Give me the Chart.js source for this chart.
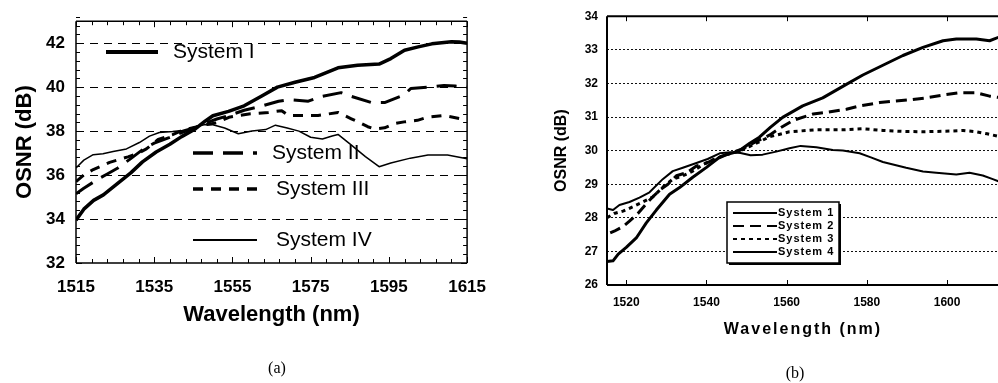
<!DOCTYPE html>
<html>
<head>
<meta charset="utf-8">
<title>OSNR vs wavelength</title>
<script src="https://cdn.jsdelivr.net/npm/chart.js@4.4.0/dist/chart.umd.min.js"></script>
<style>
  html, body { margin: 0; padding: 0; background: #fff; }
  #page { position: relative; width: 998px; height: 383px; overflow: hidden; }
  #chartA { position: absolute; left: 0; top: 0; }
  #chartB { position: absolute; left: 500px; top: 0; }
  .caption {
    position: absolute;
    font: 16px "Liberation Serif", "Times New Roman", serif;
    color: #000;
    transform: translate(-50%, -50%);
  }
</style>
</head>
<body>
<div id="page">
  <canvas id="chartA" width="500" height="383"></canvas>
  <canvas id="chartB" width="498" height="383"></canvas>
  <div class="caption" style="left:277px; top:368px;">(a)</div>
  <div class="caption" style="left:795px; top:373px;">(b)</div>
</div>

<script>
// ---- panel (a): OSNR (dB) per wavelength (nm) ----
const waveA1 = [1515, 1517, 1519.5, 1522, 1525.5, 1529, 1532, 1535.5, 1539, 1542, 1545.5, 1548, 1550, 1554, 1558, 1562.5, 1566.5, 1571, 1576, 1579, 1582, 1587, 1592.5, 1595.5, 1599, 1602.5, 1606, 1611, 1613, 1615];
const osnrA1 = [33.95, 34.45, 34.85, 35.1, 35.6, 36.1, 36.6, 37.05, 37.4, 37.75, 38.1, 38.45, 38.7, 38.9, 39.15, 39.6, 40.0, 40.22, 40.44, 40.66, 40.88, 41.0, 41.05, 41.3, 41.68, 41.83, 41.97, 42.07, 42.05, 42.0];

const waveA2 = [1515, 1517, 1520.5, 1523, 1525.7, 1529, 1532.5, 1535, 1538.8, 1542.2, 1545, 1548, 1551, 1554, 1558, 1562.5, 1566.8, 1569.3, 1574.4, 1577.8, 1582.8, 1585.4, 1590.5, 1593.9, 1598.9, 1600.6, 1605.7, 1609.1, 1612, 1615];
const osnrA2 = [35.15, 35.4, 35.8, 36.05, 36.32, 36.75, 37.22, 37.45, 37.7, 37.94, 38.12, 38.35, 38.55, 38.7, 38.95, 39.14, 39.36, 39.43, 39.36, 39.58, 39.75, 39.58, 39.3, 39.3, 39.64, 39.94, 40.01, 40.08, 40.05, 40.0];

const waveA3 = [1515, 1517, 1519.4, 1523.6, 1528.3, 1531, 1533, 1536, 1539.7, 1542.5, 1545.5, 1548.5, 1551, 1554.1, 1559.2, 1564.2, 1567.6, 1569.3, 1572.7, 1576.9, 1579.5, 1582, 1585.4, 1587.1, 1589.6, 1591.3, 1593.9, 1596.4, 1598.9, 1602.3, 1604.8, 1609.1, 1613.3, 1615];
const osnrA3 = [35.7, 36.0, 36.25, 36.58, 36.83, 37.0, 37.19, 37.62, 37.84, 38.06, 38.18, 38.3, 38.38, 38.63, 38.78, 38.85, 38.93, 38.71, 38.71, 38.71, 38.78, 38.85, 38.56, 38.42, 38.2, 38.1, 38.15, 38.34, 38.42, 38.49, 38.63, 38.71, 38.56, 38.55];

const waveA4 = [1515, 1517, 1519.4, 1521.9, 1524.5, 1527.9, 1531.2, 1533.8, 1536.3, 1539.7, 1542.2, 1545.6, 1548, 1550, 1553, 1556.5, 1560, 1563.5, 1566, 1569, 1572, 1575, 1578, 1580.5, 1582, 1585.5, 1589, 1592.5, 1595.5, 1600.5, 1605, 1610, 1615];
const osnrA4 = [36.32, 36.68, 36.93, 36.97, 37.07, 37.19, 37.48, 37.77, 37.94, 37.98, 38.03, 38.2, 38.3, 38.29, 38.14, 37.88, 38.0, 38.07, 38.27, 38.14, 38.0, 37.72, 37.64, 37.78, 37.85, 37.35, 36.84, 36.38, 36.55, 36.77, 36.91, 36.91, 36.74];

const namesA = ['System I', 'System II', 'System III', 'System IV'];
const xTicksA = [1515, 1535, 1555, 1575, 1595, 1615];
const yTicksA = [32, 34, 36, 38, 40, 42];

// ---- panel (b) ----
const waveB1 = [1515.2, 1516.7, 1518, 1520, 1522.5, 1525, 1527.5, 1530.8, 1533.3, 1536.5, 1540, 1543, 1545, 1548, 1550.8, 1553.2, 1556, 1559, 1564, 1569, 1574, 1579, 1584, 1589, 1594, 1599, 1602.3, 1607.3, 1610.6, 1613];
const osnrB1 = [26.7, 26.72, 26.92, 27.12, 27.4, 27.85, 28.23, 28.7, 28.9, 29.2, 29.5, 29.78, 29.88, 29.98, 30.22, 30.4, 30.7, 30.99, 31.33, 31.57, 31.91, 32.25, 32.54, 32.83, 33.07, 33.27, 33.32, 33.32, 33.27, 33.38];

const waveB2 = [1516, 1517, 1519.2, 1520.8, 1522.9, 1525.4, 1527, 1528.7, 1530.4, 1532.5, 1535, 1537.5, 1540, 1543, 1546, 1549, 1551.6, 1555.7, 1558.5, 1561.6, 1566.6, 1569.9, 1574.9, 1578.2, 1583.2, 1586.4, 1591.4, 1594.8, 1599.8, 1603, 1607.3, 1610.6, 1613];
const osnrB2 = [27.55, 27.6, 27.74, 27.9, 28.13, 28.47, 28.67, 28.86, 29.0, 29.25, 29.34, 29.54, 29.63, 29.8, 29.93, 30.05, 30.22, 30.46, 30.68, 30.9, 31.09, 31.14, 31.23, 31.33, 31.43, 31.47, 31.52, 31.57, 31.67, 31.72, 31.72, 31.62, 31.58];

const waveB3 = [1515.2, 1517, 1519.2, 1521.7, 1524.1, 1526.6, 1529.1, 1531.6, 1534.1, 1536.6, 1539.1, 1542, 1545, 1548, 1550.7, 1553, 1555.7, 1560.7, 1567.4, 1574, 1579, 1584, 1589, 1594, 1600.6, 1604, 1607.3, 1610, 1613];
const osnrB3 = [28.0, 28.13, 28.2, 28.33, 28.47, 28.62, 28.91, 29.15, 29.25, 29.39, 29.58, 29.75, 29.88, 29.98, 30.12, 30.25, 30.41, 30.56, 30.62, 30.62, 30.65, 30.6, 30.57, 30.56, 30.58, 30.6, 30.56, 30.5, 30.42];

const waveB4 = [1515.2, 1516.7, 1518.3, 1520.8, 1523.3, 1525.8, 1529.1, 1531.6, 1534.1, 1537.5, 1540.3, 1543.3, 1546, 1548.5, 1551, 1554, 1557.4, 1560.7, 1563.5, 1567.4, 1571.5, 1574, 1578.2, 1581, 1584, 1589.8, 1594, 1597.3, 1602.3, 1605.6, 1608.9, 1611.4, 1613];
const osnrB4 = [28.28, 28.23, 28.38, 28.47, 28.6, 28.76, 29.15, 29.39, 29.49, 29.63, 29.75, 29.92, 29.95, 29.93, 29.86, 29.88, 29.97, 30.07, 30.14, 30.1, 30.02, 30.0, 29.92, 29.8, 29.66, 29.49, 29.38, 29.34, 29.29, 29.34, 29.26, 29.15, 29.08];

const namesB = ['System 1', 'System 2', 'System 3', 'System 4'];
const xTicksB = [1520, 1540, 1560, 1580, 1600];
const yTicksB = [26, 27, 28, 29, 30, 31, 32, 33, 34];

const FONT = 'Arial, "Liberation Sans", Helvetica, sans-serif';

function pts(xs, ys) {
  return xs.map((x, i) => ({ x, y: ys[i] }));
}

// evenly spaced inward tick marks, every `every`-th one is a long one
function markSteps(from, to, step, every, longLen, shortLen) {
  const out = [];
  const n = Math.round((to - from) / step);
  for (let i = 0; i <= n; i++) {
    out.push({ v: from + i * step, len: i % every === 0 ? longLen : shortLen });
  }
  return out;
}

// axis frame + inward tick marks
function makeFrame(cfg) {
  return {
    id: 'frame',
    afterDatasetsDraw(chart) {
      const { ctx, chartArea: a, scales: { x, y } } = chart;
      const has = s => cfg.sides.includes(s);
      ctx.save();
      ctx.strokeStyle = '#000';
      ctx.setLineDash([]);

      ctx.lineWidth = 1;
      ctx.beginPath();
      for (const m of cfg.xMarks) {
        const px = Math.round(x.getPixelForValue(m.v)) + 0.5;
        if (px < a.left - 1 || px > a.right + 1) continue;
        if (has('bottom')) { ctx.moveTo(px, a.bottom); ctx.lineTo(px, a.bottom - m.len); }
        if (has('top')) { ctx.moveTo(px, a.top); ctx.lineTo(px, a.top + m.len); }
      }
      for (const m of cfg.yMarks) {
        const py = Math.round(y.getPixelForValue(m.v)) + 0.5;
        if (has('left')) { ctx.moveTo(a.left, py); ctx.lineTo(a.left + m.len, py); }
        if (has('right')) { ctx.moveTo(a.right, py); ctx.lineTo(a.right - m.len, py); }
      }
      ctx.stroke();

      ctx.lineWidth = cfg.width;
      ctx.beginPath();
      if (has('left')) { ctx.moveTo(a.left, a.top); ctx.lineTo(a.left, a.bottom); }
      if (has('right')) { ctx.moveTo(a.right, a.top); ctx.lineTo(a.right, a.bottom); }
      if (has('top')) { ctx.moveTo(a.left, a.top); ctx.lineTo(a.right, a.top); }
      if (has('bottom')) { ctx.moveTo(a.left, a.bottom); ctx.lineTo(a.right, a.bottom); }
      ctx.stroke();
      ctx.restore();
    }
  };
}

function strokeSample(ctx, ds, x1, x2, y, width) {
  ctx.lineWidth = width || ds.borderWidth;
  ctx.setLineDash(ds.borderDash || []);
  ctx.beginPath();
  ctx.moveTo(x1, y);
  ctx.lineTo(x2, y);
  ctx.stroke();
}

// key for panel (a): samples scattered over the plot
function makeScatteredKey(rows) {
  return {
    id: 'scatteredKey',
    afterDatasetsDraw(chart) {
      const ctx = chart.ctx;
      ctx.save();
      ctx.strokeStyle = '#000';
      ctx.fillStyle = '#000';
      ctx.font = '21px ' + FONT;
      ctx.textAlign = 'left';
      ctx.textBaseline = 'middle';
      rows.forEach((r, i) => {
        const ds = chart.data.datasets[i];
        strokeSample(ctx, ds, r.x1, r.x2, r.y, r.w);
        ctx.fillText(ds.label, r.tx, r.y);
      });
      ctx.restore();
    }
  };
}

// boxed key for panel (b)
function makeBoxKey(box) {
  return {
    id: 'boxKey',
    afterDatasetsDraw(chart) {
      const ctx = chart.ctx;
      const w = box.right - box.left, h = box.bottom - box.top;
      ctx.save();
      ctx.fillStyle = '#000';
      ctx.fillRect(box.left + 2, box.top + 2, w, h);
      ctx.fillStyle = '#fff';
      ctx.fillRect(box.left, box.top, w, h);
      ctx.strokeStyle = '#000';
      ctx.lineWidth = 1.5;
      ctx.setLineDash([]);
      ctx.strokeRect(box.left, box.top, w, h);

      ctx.fillStyle = '#000';
      ctx.font = 'bold 11px ' + FONT;
      ctx.letterSpacing = '1px';
      ctx.textAlign = 'left';
      ctx.textBaseline = 'middle';
      box.rows.forEach((y, i) => {
        const ds = chart.data.datasets[i];
        strokeSample(ctx, ds, box.x1, box.x2, y, 2);
        ctx.fillText(ds.label, box.tx, y);
      });
      ctx.restore();
    }
  };
}

// spaced-out axis title under panel (b)
function makeSpacedTitle(t) {
  return {
    id: 'spacedTitle',
    afterDraw(chart) {
      const ctx = chart.ctx;
      ctx.save();
      ctx.fillStyle = '#000';
      ctx.font = 'bold 16px ' + FONT;
      ctx.letterSpacing = '2px';
      ctx.textAlign = 'center';
      ctx.textBaseline = 'middle';
      ctx.fillText(t.text, t.x, t.y);
      ctx.restore();
    }
  };
}

const baseOptions = {
  responsive: false,
  animation: false,
  devicePixelRatio: 1,
  events: [],
  elements: {
    point: { radius: 0 },
    line: { borderColor: '#000', tension: 0, fill: false, borderCapStyle: 'butt', borderJoinStyle: 'round' }
  },
  plugins: { legend: { display: false }, tooltip: { enabled: false } }
};

// ---------- (a) ----------
new Chart(document.getElementById('chartA'), {
  type: 'line',
  data: {
    datasets: [
      { label: namesA[0], data: pts(waveA1, osnrA1), borderWidth: 3.5 },
      { label: namesA[1], data: pts(waveA2, osnrA2), borderWidth: 3, borderDash: [20, 10] },
      { label: namesA[2], data: pts(waveA3, osnrA3), borderWidth: 3, borderDash: [10, 8] },
      { label: namesA[3], data: pts(waveA4, osnrA4), borderWidth: 1.5 }
    ]
  },
  options: {
    ...baseOptions,
    layout: { padding: { left: 0, right: 30, top: 10, bottom: 53 } },
    scales: {
      x: {
        type: 'linear', min: 1515, max: 1615,
        afterBuildTicks: s => { s.ticks = xTicksA.map(v => ({ value: v })); },
        afterFit: s => { s.height = 67; },
        grid: { display: false, drawTicks: false },
        border: { display: false },
        ticks: {
          padding: 14, color: '#000', maxRotation: 0, autoSkip: false,
          font: { family: FONT, size: 17, weight: 'bold' },
          callback: v => String(v)
        },
        title: {
          display: true, text: 'Wavelength (nm)', color: '#000',
          font: { family: FONT, size: 22, weight: 'bold', lineHeight: 1 },
          padding: { top: 0, bottom: 4 }
        }
      },
      y: {
        type: 'linear', min: 32, max: 43,
        afterBuildTicks: s => { s.ticks = yTicksA.map(v => ({ value: v })); },
        afterFit: s => { s.width = 76; },
        grid: {
          drawTicks: false, lineWidth: 1,
          color: c => (c.tick && c.tick.value === 32 ? 'rgba(0,0,0,0)' : '#000')
        },
        border: { display: false, dash: [8, 6] },
        ticks: {
          padding: 11, color: '#000',
          font: { family: FONT, size: 17, weight: 'bold' }
        },
        title: {
          display: true, text: 'OSNR (dB)', color: '#000',
          font: { family: FONT, size: 22, weight: 'bold', lineHeight: 1 },
          padding: { top: 14, bottom: 0 }
        }
      }
    }
  },
  plugins: [
    makeFrame({
      width: 1.5,
      sides: ['left', 'right', 'top', 'bottom'],
      xMarks: markSteps(1515, 1615, 4, 5, 6, 4),
      yMarks: markSteps(32, 43, 0.4, 5, 6, 4)
    }),
    makeScatteredKey([
      { x1: 106, x2: 158, y: 52, tx: 173, w: 4 },
      { x1: 193, x2: 257, y: 153, tx: 272, w: 3.5 },
      { x1: 193, x2: 257, y: 189, tx: 276, w: 3.5 },
      { x1: 193, x2: 257, y: 240, tx: 276, w: 2 }
    ])
  ]
});

// ---------- (b) ----------
new Chart(document.getElementById('chartB'), {
  type: 'line',
  data: {
    datasets: [
      { label: namesB[0], data: pts(waveB1, osnrB1), borderWidth: 3 },
      { label: namesB[1], data: pts(waveB2, osnrB2), borderWidth: 3, borderDash: [11, 6] },
      { label: namesB[2], data: pts(waveB3, osnrB3), borderWidth: 3, borderDash: [4, 4] },
      { label: namesB[3], data: pts(waveB4, osnrB4), borderWidth: 2 }
    ]
  },
  options: {
    ...baseOptions,
    layout: { padding: { left: 0, right: 0, top: 10, bottom: 38 } },
    scales: {
      x: {
        type: 'linear', min: 1515.2, max: 1612.7,
        afterBuildTicks: s => { s.ticks = xTicksB.map(v => ({ value: v })); },
        afterFit: s => { s.height = 60; },
        grid: { display: false, drawTicks: false },
        border: { display: false },
        ticks: {
          padding: 10, color: '#000', maxRotation: 0, autoSkip: false,
          font: { family: FONT, size: 12, weight: 'bold' },
          callback: v => String(v)
        }
      },
      y: {
        type: 'linear', min: 26, max: 34,
        afterBuildTicks: s => { s.ticks = yTicksB.map(v => ({ value: v })); },
        afterFit: s => { s.width = 107; },
        grid: {
          drawTicks: false, lineWidth: 1,
          color: c => (c.tick && (c.tick.value === 26 || c.tick.value === 34) ? 'rgba(0,0,0,0)' : '#111')
        },
        border: { display: false, dash: [2, 2] },
        ticks: {
          padding: 9, color: '#000',
          font: { family: FONT, size: 12, weight: 'bold' }
        },
        title: {
          display: true, text: 'OSNR (dB)', color: '#000',
          font: { family: FONT, size: 16, weight: 'bold', lineHeight: 1 },
          padding: { top: 54, bottom: 0 }
        }
      }
    }
  },
  plugins: [
    makeFrame({
      width: 2,
      sides: ['left', 'top', 'bottom'],
      xMarks: xTicksB.map(v => ({ v, len: 5 })),
      yMarks: []
    }),
    makeBoxKey({
      left: 227, top: 202, right: 339, bottom: 263,
      x1: 233, x2: 277, tx: 278,
      rows: [213, 226, 239, 252]
    }),
    makeSpacedTitle({ text: 'Wavelength (nm)', x: 303, y: 330 })
  ]
});
</script>
</body>
</html>
